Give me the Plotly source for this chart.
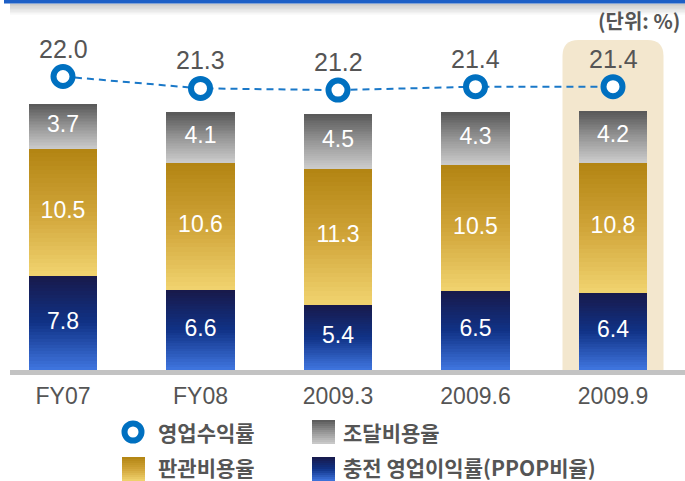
import plotly.graph_objects as go

# ---------------- data ----------------
categories = ["FY07", "FY08", "2009.3", "2009.6", "2009.9"]
ppop_ratio = [7.8, 6.6, 5.4, 6.5, 6.4]            # 충전 영업이익률(PPOP비율)
sga_ratio = [10.5, 10.6, 11.3, 10.5, 10.8]        # 판관비용율
funding_ratio = [3.7, 4.1, 4.5, 4.3, 4.2]         # 조달비용율
op_yield = [22.0, 21.3, 21.2, 21.4, 21.4]         # 영업수익률
series_names = ["영업수익률", "조달비용율", "판관비용율", "충전 영업이익률(PPOP비율)"]
unit_text = "(단위: %)"
highlight_category = "2009.9"

# ---------------- geometry / style ----------------
W, H = 685, 481
L, R, T, B = 10, 0, 40, 111
PW, PH = W - L - R, H - T - B
CAT_SPACING = 137.5
FIRST_CENTER = 63.0

NUM_FONT = "Liberation Sans, Arial, sans-serif"
KR_FONT = "Noto Sans CJK KR, sans-serif"
TXT = "#555555"
BLUE = "#0070c0"


def px(x):
    return (x - L) / PW


def py(y):
    return (T + PH - y) / PH


def lerp(c1, c2, t):
    return tuple(round(a + (b - a) * t) for a, b in zip(c1, c2))


def grad(stops, t):
    for (p0, c0), (p1, c1) in zip(stops, stops[1:]):
        if p0 <= t <= p1:
            return lerp(c0, c1, (t - p0) / (p1 - p0))
    return stops[-1][1]


def rgb(c):
    return "rgb(%d,%d,%d)" % c


BLUE_STOPS = [(0, (64, 118, 224)), (0.5, (16, 50, 134)), (1, (24, 25, 74))]
GOLD_STOPS = [(0, (241, 212, 112)), (0.5, (208, 164, 56)), (1, (178, 132, 18))]
GRAY_STOPS = [(0, (204, 204, 204)), (0.5, (150, 150, 150)), (1, (88, 88, 88))]

N = 30
fig = go.Figure()

segments = [(ppop_ratio, BLUE_STOPS), (sga_ratio, GOLD_STOPS), (funding_ratio, GRAY_STOPS)]
for values, stops in segments:
    for i in range(N):
        c = grad(stops, (i + 0.5) / N)
        fig.add_trace(go.Bar(
            x=categories, y=[v / N for v in values],
            marker=dict(color=rgb(c), line=dict(width=0)),
            showlegend=False, hoverinfo="skip",
        ))

# segment value labels
base = [0.0] * len(categories)
for values, _ in segments:
    mids = [b + v / 2 for b, v in zip(base, values)]
    fig.add_trace(go.Scatter(
        x=categories, y=mids, mode="text",
        text=["%.1f" % v for v in values],
        textposition="middle center",
        textfont=dict(family=NUM_FONT, size=23, color="white"),
        showlegend=False, hoverinfo="skip",
    ))
    base = [b + v for b, v in zip(base, values)]

# operating yield line (secondary axis)
fig.add_trace(go.Scatter(
    x=categories, y=op_yield, yaxis="y2", mode="lines+markers",
    line=dict(color="#1a78c8", width=2, dash="7px,5px"),
    marker=dict(symbol="circle", size=19, color="white", line=dict(color=BLUE, width=6)),
    showlegend=False, hoverinfo="skip",
))
annotations = []
for i, v in enumerate(op_yield):
    annotations.append(dict(
        x=i, y=v, xref="x", yref="y2", yshift=28, showarrow=False,
        text="%.1f" % v, font=dict(family=NUM_FONT, size=25, color=TXT),
    ))

shapes = []
# highlight box behind the last category (rounded top corners)
hi = categories.index(highlight_category)
cx = FIRST_CENTER + hi * CAT_SPACING
x0, x1 = px(cx - 50.5), px(cx + 50.5)
rx, ry = 16 / PW, 16 / PH
y0, y1 = py(372), 1.0
path = (f"M{x0},{y0} L{x0},{y1 - ry} Q{x0},{y1} {x0 + rx},{y1} "
        f"L{x1 - rx},{y1} Q{x1},{y1} {x1},{y1 - ry} L{x1},{y0} Z")
shapes.append(dict(type="path", path=path, xref="paper", yref="paper",
                   fillcolor="#f3e7ce", line=dict(width=0), layer="below"))

# top blue band + shadow
for k in range(8):
    ya = 3.5 + k * 1.4
    op = 0.4 * (1 - k / 8)
    shapes.append(dict(type="rect", xref="paper", yref="paper",
                       x0=px(10), x1=px(685), y0=py(ya + 1.4), y1=py(ya),
                       fillcolor="rgba(120,120,120,%.3f)" % op, line=dict(width=0), layer="below"))
shapes.append(dict(type="rect", xref="paper", yref="paper",
                   x0=px(4), x1=px(685), y0=py(3.5), y1=py(-1),
                   fillcolor="#1d5fc6", line=dict(width=0)))


def swatch(xl, yt, stops, w=23, h=24, n=12):
    for i in range(n):
        c = grad(stops, 1 - (i + 0.5) / n)
        shapes.append(dict(type="rect", xref="paper", yref="paper",
                           x0=px(xl), x1=px(xl + w),
                           y0=py(yt + (i + 1) * h / n), y1=py(yt + i * h / n),
                           fillcolor=rgb(c), line=dict(width=0)))


shapes.append(dict(type="circle", xref="paper", yref="paper",
                   xsizemode="pixel", ysizemode="pixel",
                   xanchor=px(133), yanchor=py(432),
                   x0=-8.5, x1=8.5, y0=-8.5, y1=8.5,
                   fillcolor="white", line=dict(color=BLUE, width=6)))
swatch(312, 420, GRAY_STOPS)
swatch(122, 457, GOLD_STOPS)
swatch(312, 457, BLUE_STOPS)

legend_pos = [(157, 432), (342, 432), (157, 467), (342, 467)]
for name, (lx, ly) in zip(series_names, legend_pos):
    annotations.append(dict(x=px(lx), y=py(ly), xref="paper", yref="paper",
                            xanchor="left", yanchor="middle", showarrow=False,
                            borderpad=0,
                            text="<b>%s</b>" % name,
                            font=dict(family=KR_FONT, size=21, color=TXT)))

annotations.append(dict(x=px(682), y=py(20), xref="paper", yref="paper",
                        xanchor="right", yanchor="middle", showarrow=False,
                        text="<b>%s</b>" % unit_text,
                        font=dict(family=KR_FONT, size=20, color=TXT)))

xa0 = -(FIRST_CENTER - L) / CAT_SPACING
fig.update_layout(
    width=W, height=H,
    margin=dict(l=L, r=R, t=T, b=B, pad=0),
    paper_bgcolor="white", plot_bgcolor="rgba(0,0,0,0)",
    barmode="stack", bargap=0.5,
    showlegend=False,
    xaxis=dict(type="category", range=[xa0, xa0 + PW / CAT_SPACING],
               showgrid=False, zeroline=False,
               showline=True, linecolor="#c3c3c3", linewidth=5,
               ticks="outside", ticklen=1, tickcolor="rgba(0,0,0,0)",
               tickfont=dict(family=NUM_FONT, size=23, color=TXT)),
    yaxis=dict(range=[0, PH / 12.09], visible=False, showgrid=False, zeroline=False),
    yaxis2=dict(range=[22.0 - (PH - 36.5) / 17, 22.0 + 36.5 / 17], overlaying="y",
                visible=False, showgrid=False, zeroline=False),
    shapes=shapes, annotations=annotations,
)

fig.write_html("out.html", config={"displayModeBar": False},
               post_script="document.body.style.margin='0';")
